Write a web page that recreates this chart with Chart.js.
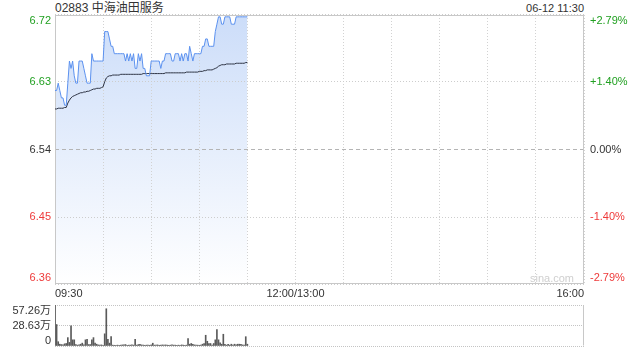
<!DOCTYPE html>
<html>
<head>
<meta charset="utf-8">
<script src="https://cdn.jsdelivr.net/npm/chart.js@4/dist/chart.umd.min.js"></script>
<style>
    body { margin: 0; width: 640px; height: 360px; overflow: hidden; position: relative; background: #fff;
           font-family: "Liberation Sans", Arial, "Noto Sans CJK SC", sans-serif; }
    #titulo { position: absolute; left: 55px; top: 2px; font-size: 12px; line-height: 12px; color: #333; }
    #hora { position: absolute; right: 56px; top: 3px; font-size: 11px; line-height: 11px; color: #333; }
    #graficoPreco { position: absolute; left: 0; top: 0; }
    #graficoVolume { position: absolute; left: 0; top: 300px; }
</style>
</head>
<body>
<div id="titulo">02883 中海油田服务</div>
<div id="hora">06-12 11:30</div>
<canvas id="graficoPreco" width="640" height="300"></canvas>
<canvas id="graficoVolume" width="640" height="60"></canvas>

<script>
// minutos desde 09:30 (0..120 = ate 11:30), sessao total de 330 minutos
const fechamentoAnterior = 6.54;

const precos = [
    6.62, 6.62, 6.63, 6.62, 6.61, 6.61, 6.60, 6.60, 6.63, 6.66,
    6.65, 6.66, 6.64, 6.63, 6.63, 6.66, 6.66, 6.66, 6.65, 6.64,
    6.63, 6.63, 6.63, 6.67, 6.66, 6.66, 6.66, 6.66, 6.66, 6.66,
    6.66, 6.70, 6.70, 6.70, 6.69, 6.68, 6.68, 6.67, 6.67, 6.67,
    6.67, 6.67, 6.67, 6.67, 6.66, 6.67, 6.66, 6.67, 6.66, 6.67,
    6.65, 6.65, 6.67, 6.66, 6.67, 6.65, 6.65, 6.64, 6.64, 6.64,
    6.66, 6.66, 6.66, 6.66, 6.66, 6.66, 6.65, 6.66, 6.66, 6.67,
    6.67, 6.67, 6.67, 6.66, 6.66, 6.67, 6.67, 6.67, 6.66, 6.67,
    6.66, 6.67, 6.67, 6.66, 6.68, 6.67, 6.66, 6.67, 6.67, 6.67,
    6.67, 6.67, 6.68, 6.68, 6.69, 6.69, 6.68, 6.68, 6.68, 6.68,
    6.70, 6.71, 6.72, 6.72, 6.71, 6.71, 6.72, 6.72, 6.72, 6.72,
    6.71, 6.71, 6.71, 6.72, 6.72, 6.72, 6.72, 6.72, 6.72, 6.72, 6.72
];

const precoMedio = [
    6.595, 6.595, 6.596, 6.596, 6.596, 6.596, 6.597, 6.597, 6.603, 6.607,
    6.610, 6.612, 6.613, 6.614, 6.615, 6.616, 6.617, 6.617, 6.618, 6.618,
    6.619, 6.619, 6.620, 6.621, 6.622, 6.622, 6.623, 6.623, 6.623, 6.624,
    6.625, 6.632, 6.637, 6.639, 6.640, 6.640, 6.641, 6.641, 6.641, 6.641,
    6.641, 6.642, 6.642, 6.642, 6.642, 6.642, 6.642, 6.642, 6.642, 6.642,
    6.642, 6.642, 6.642, 6.642, 6.642, 6.643, 6.643, 6.643, 6.643, 6.643,
    6.643, 6.643, 6.643, 6.643, 6.643, 6.643, 6.643, 6.643, 6.643, 6.644,
    6.644, 6.644, 6.644, 6.644, 6.644, 6.644, 6.644, 6.644, 6.644, 6.644,
    6.644, 6.644, 6.645, 6.645, 6.645, 6.645, 6.645, 6.645, 6.645, 6.645,
    6.646, 6.646, 6.646, 6.647, 6.647, 6.648, 6.648, 6.648, 6.648, 6.649,
    6.650, 6.651, 6.653, 6.654, 6.655, 6.655, 6.655, 6.656, 6.656, 6.656,
    6.656, 6.656, 6.656, 6.657, 6.657, 6.657, 6.657, 6.657, 6.657, 6.658, 6.658
];

// volume em 万
const volumes = [
    57.26, 30, 6, 2.5, 2, 1.5, 3, 3.5, 11.7, 5,
    28, 8.6, 8.6, 2, 1.2, 1.5, 2.5, 4, 1.5, 8.6,
    9.3, 2, 2, 8.6, 11.7, 4, 2.5, 1.5, 1.2, 1.5,
    1, 17, 52, 9.3, 4, 13, 1.2, 1, 1, 1.2,
    1, 1.2, 1.5, 1.5, 2, 1, 1.2, 1.2, 1.5, 1.2,
    9.3, 1.2, 2, 2.5, 1.5, 1.2, 1, 1.2, 1.2, 1,
    1.5, 3.9, 1.2, 1.2, 1.5, 1, 1.2, 1.5, 1.2, 1.5,
    1.2, 1, 1.2, 1.5, 1.2, 1.2, 1, 1.2, 1, 1.5,
    1.2, 1, 1.2, 10.5, 2.5, 3.5, 2.5, 1.5, 1.2, 1.2,
    1, 1.2, 2.5, 3.5, 15, 6.6, 3.5, 3.5, 1.2, 3.5,
    8.6, 23, 8.6, 4.5, 2.5, 16.4, 2.5, 1.2, 2.5, 1.2,
    2.5, 1.2, 2.5, 1.5, 2.5, 2.5, 2.5, 1.5, 1.2, 13, 2.5
];

const valoresEixoPreco = [6.3575, 6.4484, 6.54, 6.6316, 6.7225];
const rotulosPreco = ['6.36', '6.45', '6.54', '6.63', '6.72'];
const rotulosPercentual = ['-2.79%', '-1.40%', '0.00%', '+1.40%', '+2.79%'];
const valoresEixoVolume = [0, 28.63, 57.26];
const rotulosVolume = ['0', '28.63万', '57.26万'];
const rotulosTempo = [[0, '09:30'], [150, '12:00/13:00'], [330, '16:00']];

const VERDE = '#21a021';
const VERMELHO = '#ee3a3a';
const PRETO = '#333';
const FONTE = '11px "Liberation Sans", Arial, "Noto Sans CJK SC", sans-serif';

function corDoValor(i) {
    if (i > 2) return VERDE;
    if (i < 2) return VERMELHO;
    return PRETO;
}

// borda cinza em volta da area do grafico
const bordaArea = {
    id: 'bordaArea',
    beforeDatasetsDraw(chart, args, opts) {
        const { ctx, chartArea } = chart;
        ctx.save();
        ctx.strokeStyle = '#c8c8c8';
        ctx.lineWidth = 1;
        ctx.beginPath();
        const l = Math.round(chartArea.left) + 0.5, r = Math.round(chartArea.right) - 0.5;
        const t = Math.round(chartArea.top) + 0.5, b = Math.round(chartArea.bottom) - 0.5;
        if (opts.todos) {
            ctx.strokeRect(l, t, r - l, b - t);
        } else {
            ctx.moveTo(l, t); ctx.lineTo(l, b);
            ctx.moveTo(r, t); ctx.lineTo(r, b);
            ctx.stroke();
        }
        ctx.restore();
    }
};

const textosPreco = {
    id: 'textosPreco',
    afterDraw(chart) {
        const { ctx, chartArea, scales } = chart;
        ctx.save();
        ctx.font = FONTE;
        ctx.textBaseline = 'middle';
        for (let i = 0; i < valoresEixoPreco.length; i++) {
            let y = scales.y.getPixelForValue(valoresEixoPreco[i]);
            if (i == 0) y -= 6;
            if (i == valoresEixoPreco.length - 1) y += 6;
            ctx.fillStyle = corDoValor(i);
            ctx.textAlign = 'right';
            ctx.fillText(rotulosPreco[i], chartArea.left - 4, y);
            ctx.textAlign = 'left';
            ctx.fillText(rotulosPercentual[i], chartArea.right + 6, y);
        }
        // horarios
        ctx.fillStyle = PRETO;
        for (let i = 0; i < rotulosTempo.length; i++) {
            const x = scales.x.getPixelForValue(rotulosTempo[i][0]);
            ctx.textAlign = i == 0 ? 'left' : (i == rotulosTempo.length - 1 ? 'right' : 'center');
            ctx.fillText(rotulosTempo[i][1], x, chartArea.bottom + 10);
        }
        // marca d'agua
        ctx.fillStyle = '#cfcfcf';
        ctx.textAlign = 'right';
        ctx.fillText('sina.com', chartArea.right - 10, chartArea.bottom - 5);
        ctx.restore();
    }
};

const textosVolume = {
    id: 'textosVolume',
    afterDraw(chart) {
        const { ctx, chartArea, scales } = chart;
        ctx.save();
        ctx.font = FONTE;
        ctx.textBaseline = 'middle';
        ctx.textAlign = 'right';
        ctx.fillStyle = PRETO;
        for (let i = 0; i < valoresEixoVolume.length; i++) {
            let y = scales.y.getPixelForValue(valoresEixoVolume[i]);
            if (i == 0) y -= 5;
            if (i == valoresEixoVolume.length - 1) y += 6;
            ctx.fillText(rotulosVolume[i], chartArea.left - 4, y);
        }
        ctx.restore();
    }
};

const pontosPreco = precos.map((v, i) => ({ x: i, y: v }));
const pontosMedio = precoMedio.map((v, i) => ({ x: i, y: v }));
const pontosVolume = volumes.map((v, i) => ({ x: i, y: v }));

function gradienteAzul(context) {
    const { ctx, chartArea } = context.chart;
    if (!chartArea) return null;
    const g = ctx.createLinearGradient(0, chartArea.top, 0, chartArea.bottom);
    g.addColorStop(0, 'rgb(204,221,249)');
    g.addColorStop(1, 'rgb(255,255,255)');
    return g;
}

new Chart(document.getElementById('graficoPreco'), {
    type: 'line',
    data: {
        datasets: [
            {
                data: pontosPreco,
                borderColor: '#5b91ef',
                borderWidth: 1,
                pointRadius: 0,
                tension: 0,
                fill: 'start',
                backgroundColor: gradienteAzul
            },
            {
                data: pontosMedio,
                borderColor: '#2e3444',
                borderWidth: 1,
                pointRadius: 0,
                tension: 0,
                fill: false
            }
        ]
    },
    options: {
        responsive: false,
        animation: false,
        layout: { padding: { left: 55, right: 56, top: 15, bottom: 16 } },
        plugins: {
            legend: { display: false },
            tooltip: { enabled: false },
            // preenchimento por baixo da grade, como no original
            filler: { drawTime: 'beforeDraw' },
            bordaArea: { todos: true }
        },
        scales: {
            x: {
                type: 'linear', min: 0, max: 330,
                afterBuildTicks: (eixo) => {
                    eixo.ticks = [];
                    for (let m = 0; m <= 330; m += 30) eixo.ticks.push({ value: m });
                },
                ticks: { display: false },
                grid: { color: '#d2d2d2', drawTicks: false },
                border: { display: false, dash: [1, 2] }
            },
            y: {
                min: fechamentoAnterior * (1 - 0.0279), max: fechamentoAnterior * (1 + 0.0279),
                afterBuildTicks: (eixo) => { eixo.ticks = valoresEixoPreco.map(v => ({ value: v })); },
                ticks: { display: false },
                grid: {
                    drawTicks: false,
                    color: (c) => c.tick && c.tick.value == fechamentoAnterior ? '#b4b4b4' : '#cdcdcd'
                },
                border: {
                    display: false,
                    dash: (c) => c.tick && c.tick.value == fechamentoAnterior ? [4, 3] : [1, 2]
                }
            }
        }
    },
    plugins: [bordaArea, textosPreco]
});

new Chart(document.getElementById('graficoVolume'), {
    type: 'bar',
    data: {
        datasets: [{
            data: pontosVolume,
            backgroundColor: '#5a5a5a',
            barThickness: 1,
            borderWidth: 0
        }]
    },
    options: {
        responsive: false,
        animation: false,
        layout: { padding: { left: 55, right: 56, top: 5, bottom: 6 } },
        plugins: { legend: { display: false }, tooltip: { enabled: false }, bordaArea: { todos: false } },
        scales: {
            x: {
                type: 'linear', min: 0, max: 330, offset: false,
                ticks: { display: false },
                grid: { display: false, offset: false },
                border: { display: false }
            },
            y: {
                min: 0, max: 57.26,
                afterBuildTicks: (eixo) => { eixo.ticks = valoresEixoVolume.map(v => ({ value: v })); },
                ticks: { display: false },
                grid: { drawTicks: false, color: '#c4c4c4' },
                border: { display: false, dash: [1, 1] }
            }
        }
    },
    plugins: [bordaArea, textosVolume]
});
</script>
</body>
</html>
